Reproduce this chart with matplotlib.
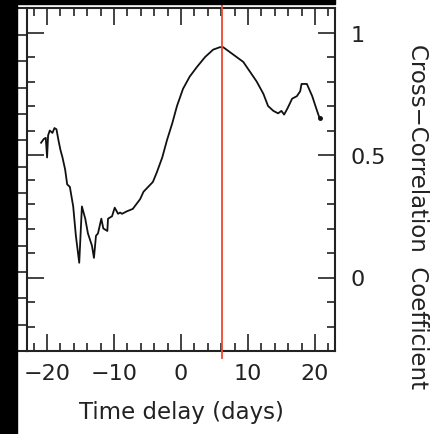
import matplotlib
matplotlib.use("Agg")
import matplotlib.pyplot as plt
import numpy as np
from matplotlib.patches import Rectangle
from matplotlib.ticker import MultipleLocator

# cross-correlation curve
lag = [
    -20.9, -20.5, -20.2, -20.0, -19.85, -19.6, -19.2, -18.9, -18.6, -18.3,
    -18.0, -17.7, -17.3, -17.0, -16.6, -16.1, -15.7, -15.2, -14.8, -14.3,
    -13.9, -13.3, -13.0, -12.7, -12.4, -11.9, -11.6, -11.0, -10.9, -10.3,
    -9.9, -9.4, -9.1, -8.8, -8.1, -7.2, -6.1, -5.6, -4.9, -4.2,
    -3.6, -2.8, -2.1, -1.3, -0.6, 0.3, 1.3, 2.4, 3.6, 4.8,
    5.8, 6.3, 7.3, 8.3, 9.3, 10.3, 11.3, 12.3, 13.0, 13.8,
    14.5, 15.0, 15.4, 15.9, 16.6, 17.3, 17.8, 18.0, 18.8, 19.6,
    20.2, 20.7,
]
ccf = [
    0.55, 0.565, 0.57, 0.49, 0.58, 0.60, 0.59, 0.61, 0.605, 0.56,
    0.52, 0.49, 0.44, 0.38, 0.37, 0.29, 0.17, 0.06, 0.29, 0.24,
    0.18, 0.13, 0.08, 0.17, 0.18, 0.24, 0.20, 0.19, 0.24, 0.25,
    0.285, 0.26, 0.265, 0.26, 0.27, 0.28, 0.32, 0.35, 0.37, 0.39,
    0.43, 0.49, 0.56, 0.63, 0.70, 0.77, 0.82, 0.86, 0.90, 0.93,
    0.94, 0.94, 0.92, 0.90, 0.88, 0.84, 0.80, 0.75, 0.70, 0.68,
    0.67, 0.68, 0.665, 0.69, 0.73, 0.74, 0.76, 0.79, 0.79, 0.74,
    0.69, 0.65,
]
peak_lag = 6.1

x_ticks = [-20, -10, 0, 10, 20]
y_ticks = [0, 0.5, 1]
y_ticklabels = ["0", "0.5", "1"]

INK = "#222222"
plt.rcParams["font.family"] = ["DejaVu Sans"]

fig = plt.figure(figsize=(4.31, 4.35), dpi=100)
ax = fig.add_axes([27 / 431, 83 / 435, 308 / 431, 343 / 435])

# edge of the neighbouring panel, cut off on the left
ax_n = ax.twinx()
ax_n.set_ylim(-0.3, 1.1)
ax_n.yaxis.set_ticks_position("left")
ax_n.set_yticks(0.99 - 0.1075 * np.arange(12))
ax_n.tick_params(axis="y", direction="out", length=7.2, width=1.2,
                 color=INK, labelleft=False, labelright=False)
for s in ax_n.spines.values():
    s.set_visible(False)

ax.plot(lag, ccf, color="#111111", lw=1.3, zorder=3)
ax.plot(lag[-1], ccf[-1], "o", color="#111111", ms=2.5, zorder=3)
ax.axvline(peak_lag, ymin=-0.02, ymax=1.012, color="#f0492e", lw=1.3,
           clip_on=False, zorder=4)

ax.set_xlim(-23, 23)
ax.set_ylim(-0.3, 1.1)
ax.set_xticks(x_ticks)
ax.xaxis.set_minor_locator(MultipleLocator(2))
ax.set_yticks(y_ticks)
ax.set_yticklabels(y_ticklabels)
ax.yaxis.set_minor_locator(MultipleLocator(0.1))
ax.yaxis.set_ticks_position("both")

ax.tick_params(which="both", direction="in", top=True, right=True,
               left=True, labelleft=False, labelright=True,
               color=INK, width=1.2, labelcolor=INK, labelsize=16)
ax.tick_params(which="major", length=12)
ax.tick_params(which="minor", length=6)
ax.tick_params(axis="x", pad=9)
ax.tick_params(axis="y", pad=11)
for s in ax.spines.values():
    s.set_color(INK)
    s.set_linewidth(1.5)

ax.set_xlabel("Time delay (days)", fontsize=16.5, color=INK)
ax.xaxis.label.set_va("center")
ax.xaxis.set_label_coords(0.5, -0.175)
ax.yaxis.set_label_position("right")
ax.set_ylabel("Cross\u2212Correlation  Coefficient", fontsize=16.5, color=INK,
              rotation=-90, va="center", ha="center")
ax.yaxis.set_label_coords(1.268, 0.395)

ax.axhline(-0.3, xmin=-0.033, xmax=0, color=INK, lw=1.5, clip_on=False)
ax.axhline(1.1, xmin=-0.033, xmax=0, color=INK, lw=1.5, clip_on=False)

fig.patches.append(Rectangle((0, 0), 17 / 431, 1, transform=fig.transFigure,
                             color="black", zorder=10))
fig.patches.append(Rectangle((0, 1 - 5 / 435), 335 / 431, 5 / 435,
                             transform=fig.transFigure, color="black", zorder=10))

fig.savefig("out.png", dpi=100)
